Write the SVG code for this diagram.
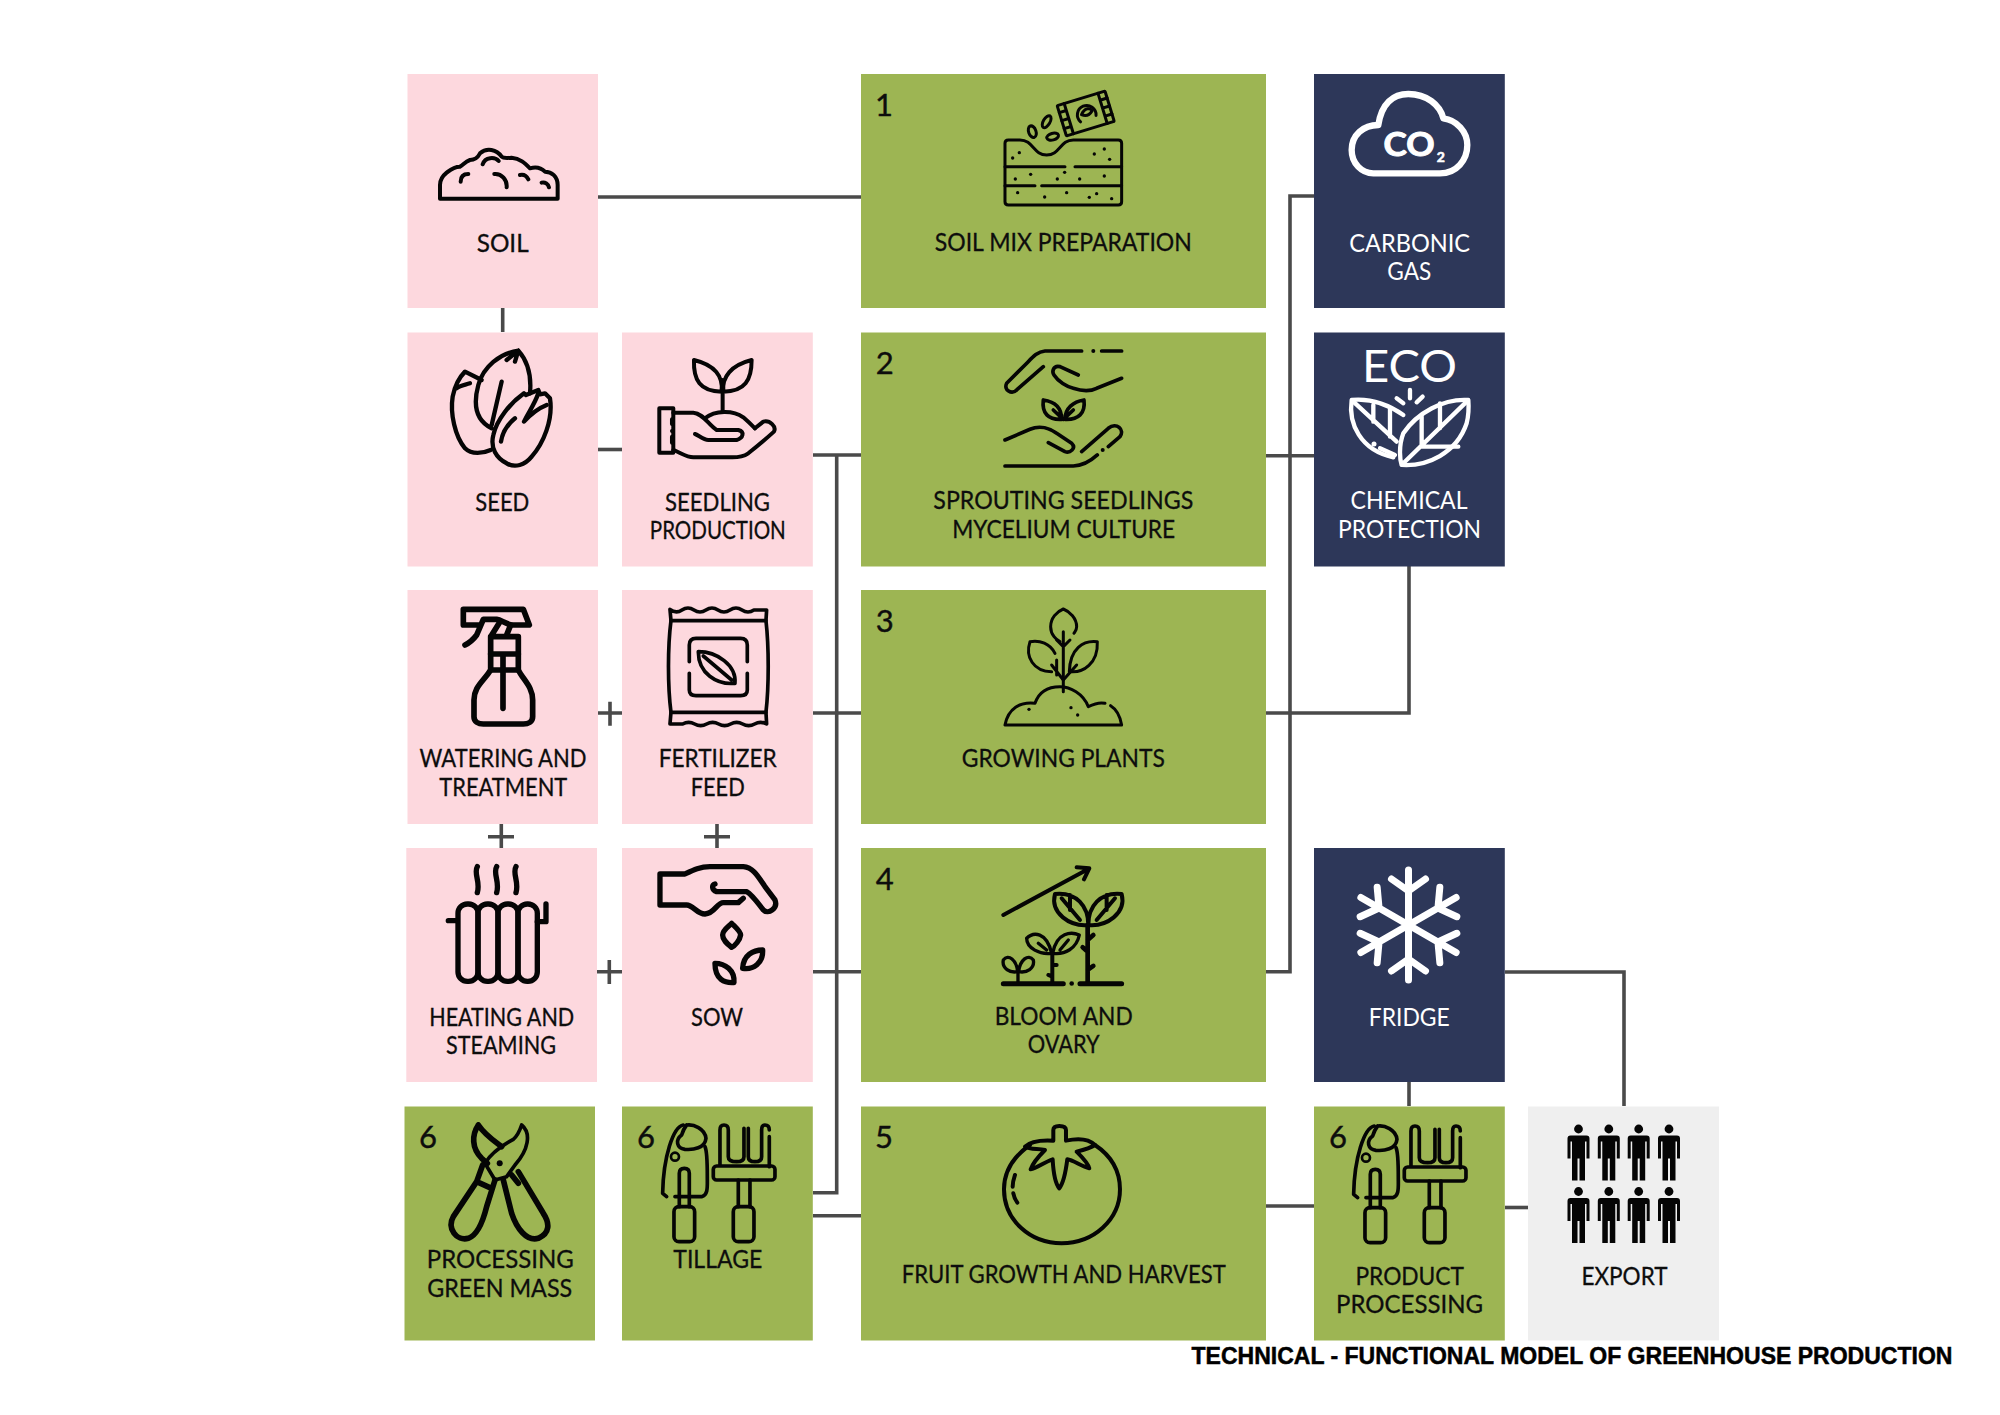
<svg xmlns="http://www.w3.org/2000/svg" xmlns:xlink="http://www.w3.org/1999/xlink" width="2000" height="1415" viewBox="0 0 2000 1415">
<style>
.pink{fill:#fdd8de}.green{fill:#9db553}.navy{fill:#2d3759}.gray{fill:#efefef}
.t{font-family:"Lato","Liberation Sans",sans-serif;font-size:25px;fill:#0d0d0d;stroke:#0d0d0d;stroke-width:.3;text-anchor:middle}
.w{fill:#fff;stroke:none;font-weight:400}
.n{font-family:"Lato","Liberation Sans",sans-serif;font-size:31px;fill:#0d0d0d;stroke:#0d0d0d;stroke-width:.4;text-anchor:middle}
.title{font-family:"Liberation Sans",Arial,sans-serif;font-size:24px;font-weight:700;fill:#000;stroke:#000;stroke-width:.5;text-anchor:start}
.c{fill:none;stroke:#4a4a4a;stroke-width:3.6}
.i{fill:none;stroke:#050505;stroke-linecap:round;stroke-linejoin:round}
.iw{fill:none;stroke:#fff;stroke-linecap:round;stroke-linejoin:round}
.d{fill:#050505}
</style>
<defs>
<g id="tool" class="i" stroke-width="11">
<path d="M850 75C820 80 790 170 788 280L800 290M825 290H905C925 285 922 260 922 230C922 180 920 150 915 140"/>
<path d="M860 75C880 72 915 85 918 115C915 145 880 150 855 148C830 145 825 120 845 105C848 95 852 85 860 75"/>
<circle cx="825" cy="170" r="12" stroke-width="8"/>
<path d="M838 320V220Q838 205 853 205Q868 205 868 220V320"/>
<rect x="822" y="320" width="62" height="105" rx="15"/>
<path d="M960 195V90Q960 75 972 75Q985 75 985 90V170Q985 185 1010 185Q1032 185 1032 170V85M1045 85V170Q1045 185 1065 185Q1085 185 1085 170V90Q1085 75 1095 75Q1108 75 1108 90M1108 110V200"/>
<rect x="940" y="198" width="185" height="42" rx="10"/>
<path d="M1015 240V320M1050 240V320"/>
<rect x="1000" y="320" width="62" height="105" rx="15"/>
</g>
<g id="person" class="d"><circle cx="0" cy="4.500" r="4.400"/><path d="M-11 14Q-11 11-8 11H8Q11 11 11 14V34H8V17H6.500V56H1V34H-1V56H-6.500V17H-8V34H-11Z"/></g>
<g id="arm" class="iw" stroke-width="7"><path d="M0 0V-55M-17-46L0-34L17-46"/></g>
</defs>
<rect width="2000" height="1415" fill="#fff"/>

<g id="connectors" class="c">
<path d="M598 197H861"/>
<path d="M502.700 308V332"/>
<path d="M598 449.500H622"/>
<path d="M813 455H861"/>
<path d="M836.700 455V1192.700H813"/>
<path d="M813 1215.700H861"/>
<path d="M813 713H861"/>
<path d="M813 971.700H861"/>
<path d="M598 713H622M610 701.700V725.700"/>
<path d="M488 836.700H514M501.300 824V848"/>
<path d="M704 836.700H730M717 824V848"/>
<path d="M597 971.700H622M609.300 960V984"/>
<path d="M1266 455.700H1314"/>
<path d="M1314 196H1290V971.700H1266"/>
<path d="M1266 713H1409V566"/>
<path d="M1505 972H1624V1106"/>
<path d="M1409 1082V1106"/>
<path d="M1266 1206H1314"/>
<path d="M1505 1207.500H1528"/>
</g>

<g id="soil">
<rect class="pink" x="407.500" y="74" width="190.500" height="234"/>
<g transform="translate(400 60) scale(.3333)" class="i" stroke-width="12">
<path d="M120 416H473V375C473 350 455 335 435 335C420 320 400 322 390 325C375 310 360 295 335 293C320 295 310 295 305 290C290 268 260 262 240 280C232 295 225 300 210 300C195 305 190 315 180 320C160 320 150 330 140 338C125 350 120 365 120 375Z"/>
<path d="M248 313C255 290 285 290 296 303M182 365C182 350 190 342 205 342M283 342C305 340 322 360 320 382M360 345C370 343 380 348 385 358M425 368C435 365 445 372 447 382"/>
</g>
<text class="t" x="502.700" y="251.700" textLength="52" lengthAdjust="spacingAndGlyphs">SOIL</text>
</g>

<g id="seed">
<rect class="pink" x="407.500" y="332.500" width="190.500" height="234"/>
<g transform="translate(400 60) scale(.3333)" class="i" stroke-width="13">
<path d="M245 960L195 935C175 955 165 975 158 1010C150 1060 165 1130 195 1165C215 1185 250 1180 272 1170M170 985C180 975 195 975 210 970"/>
<path d="M355 872C300 880 250 920 235 975C220 1030 225 1080 275 1105M355 872C380 900 395 945 390 1000M305 965C295 1010 285 1050 275 1095M320 900L355 872L345 905"/>
<path d="M450 1015C460 1080 430 1150 395 1190C375 1215 345 1225 320 1210C290 1195 270 1165 280 1125C290 1080 330 1030 372 1000L378 1005L415 990L420 1003L435 1000Z"/>
<path d="M415 1000C405 1030 390 1050 372 1085C390 1065 415 1045 440 1035M303 1145C308 1115 320 1095 345 1075"/>
</g>
<text class="t" x="502.300" y="510.700" textLength="54" lengthAdjust="spacingAndGlyphs">SEED</text>
</g>

<g id="seedling">
<rect class="pink" x="622" y="332.500" width="190.800" height="234"/>
<g transform="translate(400 60) scale(.3333)" class="i" stroke-width="12">
<path d="M882 900C880 960 900 995 965 995C970 950 945 915 882 900ZM1055 900C1055 960 1035 995 970 995C965 950 995 915 1055 900ZM968 960V1055"/>
<path d="M915 1075C945 1050 1000 1050 1030 1072C1045 1085 1055 1095 1065 1105"/>
<rect x="778" y="1045" width="42" height="133"/>
<path d="M820 1058H880C910 1060 925 1095 950 1110H1015C1035 1115 1030 1135 1010 1140H925C910 1140 895 1125 885 1122"/>
<path d="M1065 1105L1090 1085C1110 1080 1130 1100 1122 1115C1100 1135 1070 1160 1045 1180C1030 1190 1010 1193 990 1192H880C860 1192 845 1180 820 1170"/>
<path d="M816 1078V1092M816 1130V1148"/>
</g>
<circle class="d" cx="672" cy="431" r="2"/>
<text class="t" x="717.500" y="511" textLength="105" lengthAdjust="spacingAndGlyphs">SEEDLING</text>
<text class="t" x="717.800" y="538.500" textLength="136" lengthAdjust="spacingAndGlyphs">PRODUCTION</text>
</g>

<g id="watering">
<rect class="pink" x="407.500" y="590" width="190.500" height="234"/>
<g transform="translate(400 580) scale(.3333)" class="i" stroke-width="17">
<path d="M190 88H370L388 135H340C320 135 305 120 290 118H250L230 165C215 185 205 190 195 195M190 88V135H238"/>
<path d="M300 125L272 170V270C250 305 222 320 222 360V410C222 425 235 432 250 432H370C385 432 398 425 398 410V360C398 320 370 300 355 270V170H272M330 140L318 170"/>
<path d="M272 222H355M272 270H355M309 230V385"/>
</g>
<text class="t" x="503" y="767.300" textLength="167" lengthAdjust="spacingAndGlyphs">WATERING AND</text>
<text class="t" x="503.300" y="795.700" textLength="128" lengthAdjust="spacingAndGlyphs">TREATMENT</text>
</g>

<g id="fertilizer">
<rect class="pink" x="622" y="590" width="190.800" height="234"/>
<g transform="translate(400 580) scale(.3333)" class="i" stroke-width="11">
<path d="M810 88Q828 102 846 90T882 90T918 90T954 90T990 90T1026 90T1062 90L1100 90L1098 122H813Z"/>
<path d="M813 122C803 200 803 320 813 397M1098 122C1107 200 1107 320 1098 397"/>
<path d="M813 397H1098L1100 432Q1082 422 1064 432T1028 432T992 432T956 432T920 432T884 432T848 432L810 432Z"/>
<path d="M868 245V195Q868 175 888 175H1022Q1042 175 1042 195V245M868 280V330Q868 347 888 347H1022Q1042 347 1042 330V280"/>
<path d="M895 215C950 215 1010 255 1005 310C950 315 895 280 895 215ZM910 228L995 300"/>
</g>
<text class="t" x="717.700" y="767" textLength="118" lengthAdjust="spacingAndGlyphs">FERTILIZER</text>
<text class="t" x="717.700" y="795.700" textLength="54" lengthAdjust="spacingAndGlyphs">FEED</text>
</g>

<g id="heating">
<rect class="pink" x="406.300" y="848" width="190.700" height="234"/>
<g transform="translate(400 580) scale(.3333)" class="i" stroke-width="16">
<path d="M232 860C220 880 242 905 232 938M290 860C278 880 300 905 290 938M348 860C336 880 358 905 348 938"/>
<rect x="174" y="972" width="60" height="232" rx="28"/><rect x="234" y="972" width="60" height="232" rx="28"/><rect x="294" y="972" width="60" height="232" rx="28"/><rect x="354" y="972" width="58" height="232" rx="28"/>
<path d="M145 1022H172M412 1025H438V972"/>
</g>
<text class="t" x="501.700" y="1025.700" textLength="145" lengthAdjust="spacingAndGlyphs">HEATING AND</text>
<text class="t" x="501" y="1054" textLength="110" lengthAdjust="spacingAndGlyphs">STEAMING</text>
</g>

<g id="sow">
<rect class="pink" x="622" y="848" width="190.800" height="234"/>
<g transform="translate(400 580) scale(.3333)" class="i" stroke-width="16">
<path d="M1030 955L1015 968H970C950 968 945 1000 915 1002C890 1002 880 975 860 975H780V882H855C880 870 900 860 930 860H1030C1060 862 1075 890 1095 920L1125 960C1135 985 1105 1005 1090 990C1075 970 1050 940 1040 935H950C935 930 935 915 945 912"/>
<path d="M995 1030C1010 1045 1022 1055 1022 1065C1020 1080 1005 1098 995 1102C980 1090 968 1080 968 1065C968 1050 985 1040 995 1030Z"/>
<path d="M1088 1110C1060 1110 1030 1125 1028 1165C1060 1170 1090 1150 1088 1110Z"/>
<path d="M945 1150C975 1150 1005 1170 1002 1208C975 1210 945 1200 945 1150Z"/>
</g>
<text class="t" x="717" y="1025.700" textLength="52" lengthAdjust="spacingAndGlyphs">SOW</text>
</g>

<g id="processing">
<rect class="green" x="404.500" y="1106.500" width="190.500" height="234"/>
<g transform="translate(400 1100) scale(.3333)" class="i" stroke-width="17">
<path d="M235 75C215 105 215 145 245 175L262 190M235 75C255 105 285 125 305 140"/>
<path d="M365 75C395 100 385 150 345 195L320 230L285 240L255 190C270 165 300 140 340 118C355 105 360 90 365 75Z" stroke-width="11"/>
<path d="M248 195L230 245L160 350C140 385 170 425 205 415C235 405 250 360 260 320L285 240M230 245L268 262"/>
<path d="M310 240L335 340C350 385 380 425 415 415C450 400 450 370 430 340L355 215M335 225L355 250"/>
</g>
<circle class="d" cx="499.700" cy="1163.300" r="3"/>
<text class="n" x="428" y="1148">6</text>
<text class="t" x="500.300" y="1268.300" textLength="147" lengthAdjust="spacingAndGlyphs">PROCESSING</text>
<text class="t" x="499.700" y="1296.700" textLength="145" lengthAdjust="spacingAndGlyphs">GREEN MASS</text>
</g>

<g id="tillage">
<rect class="green" x="622" y="1106.500" width="190.800" height="234"/>
<use xlink:href="#tool" href="#tool" transform="translate(400 1100) scale(.3333)"/>
<text class="n" x="646" y="1148">6</text>
<text class="t" x="717.800" y="1268.300" textLength="89" lengthAdjust="spacingAndGlyphs">TILLAGE</text>
</g>

<g id="step1">
<rect class="green" x="861" y="74" width="405" height="234"/>
<g transform="translate(860 70) scale(.3333)" class="i" stroke-width="9">
<path d="M435 220Q435 210 445 210H480C520 210 520 255 560 255C600 255 600 210 640 210H775Q785 210 785 220V395Q785 405 775 405H445Q435 405 435 395Z"/>
<path d="M435 290H615M645 290H785M435 347H525M545 347H785"/>
<ellipse cx="517" cy="185" rx="11" ry="18" transform="rotate(-20 517 185)"/>
<ellipse cx="560" cy="155" rx="10" ry="20" transform="rotate(30 560 155)"/>
<ellipse cx="578" cy="200" rx="18" ry="10" transform="rotate(-15 578 200)"/>
<g transform="rotate(-17 677 130)"><rect x="602" y="83" width="150" height="95" rx="3"/><path d="M624 83V178M730 83V178M602 105H624M602 130H624M602 155H624M730 105H752M730 130H752M730 155H752"/><path d="M655 150A28 28 0 1 1 705 145"/><path d="M664 130C680 112 695 118 698 128C685 140 675 140 664 130Z"/></g>
</g>
<g class="d" transform="translate(860 70) scale(.3333)"><circle cx="478" cy="248" r="5"/><circle cx="458" cy="264" r="5"/><circle cx="703" cy="252" r="5"/><circle cx="733" cy="237" r="5"/><circle cx="749" cy="268" r="5"/><circle cx="466" cy="327" r="5"/><circle cx="512" cy="313" r="5"/><circle cx="592" cy="327" r="5"/><circle cx="614" cy="307" r="5"/><circle cx="659" cy="327" r="5"/><circle cx="733" cy="318" r="5"/><circle cx="473" cy="368" r="5"/><circle cx="554" cy="381" r="5"/><circle cx="620" cy="368" r="5"/><circle cx="688" cy="382" r="5"/><circle cx="710" cy="371" r="5"/><circle cx="755" cy="386" r="5"/></g>
<text class="n" x="884" y="115.500">1</text>
<text class="t" x="1063.300" y="251" textLength="257" lengthAdjust="spacingAndGlyphs">SOIL MIX PREPARATION</text>
</g>

<g id="step2">
<rect class="green" x="861" y="332.500" width="405" height="234"/>
<g transform="translate(860 70) scale(.3333)" class="i" stroke-width="11">
<path d="M665 843H555C530 845 515 865 495 885L440 940C430 960 455 975 470 960L550 890M725 843H785"/>
<path d="M655 915L600 890C580 885 575 905 582 915C595 935 620 950 640 955C670 965 690 965 710 955L785 925"/>
<path d="M550 990C545 1030 565 1050 605 1048C605 1015 585 995 550 990ZM672 990C677 1030 655 1050 615 1048C615 1015 640 995 672 990ZM580 1020L610 1048L640 1020"/>
<path d="M435 1110L510 1078C540 1065 570 1075 590 1090L635 1120C650 1135 630 1150 615 1145L565 1118"/>
<path d="M665 1145L745 1075C770 1055 795 1080 780 1100L745 1130M712 1155C690 1175 670 1188 640 1188H435"/>
</g>
<circle class="d" cx="1093.300" cy="351" r="2"/><circle class="d" cx="1102.700" cy="450" r="2"/>
<text class="n" x="884.700" y="373.500">2</text>
<text class="t" x="1063.300" y="509.300" textLength="260" lengthAdjust="spacingAndGlyphs">SPROUTING SEEDLINGS</text>
<text class="t" x="1063.700" y="538.300" textLength="223" lengthAdjust="spacingAndGlyphs">MYCELIUM CULTURE</text>
</g>

<g id="step3">
<rect class="green" x="861" y="590" width="405" height="234"/>
<g transform="translate(860 590) scale(.3333)" class="i" stroke-width="9">
<path d="M600 155C590 150 572 135 572 110C572 85 590 65 610 57C630 65 650 85 650 110C650 120 645 125 642 130"/>
<path d="M610 125V305M590 150L610 170L630 150"/>
<path d="M585 190C570 160 540 150 510 155C495 200 520 245 575 245"/>
<path d="M712 155C670 150 630 175 628 245C670 250 715 220 712 155Z"/>
<path d="M575 225L610 270M650 225L610 270M590 210V255"/>
<path d="M435 405H785C780 375 765 355 752 347M735 340C715 335 695 345 685 350C670 310 630 290 600 290C560 290 535 310 525 340C480 335 445 355 435 405"/>
</g>
<g class="d" transform="translate(860 590) scale(.3333)"><circle cx="507" cy="358" r="5"/><circle cx="633" cy="353" r="5"/><circle cx="653" cy="375" r="5"/></g>
<text class="n" x="884.700" y="632">3</text>
<text class="t" x="1063.300" y="766.700" textLength="203" lengthAdjust="spacingAndGlyphs">GROWING PLANTS</text>
</g>

<g id="step4">
<rect class="green" x="861" y="848" width="405" height="234"/>
<g transform="translate(860 590) scale(.3333)" class="i" stroke-width="12">
<path d="M430 975L685 837M650 832L688 835L672 868"/>
<path d="M585 912C650 905 685 950 685 1005C630 1010 570 970 585 912ZM785 912C720 905 685 950 685 1005C740 1010 800 970 785 912ZM605 925L660 990M765 925L710 990M630 915V960M740 915V960"/>
<path d="M683 1005V1180M683 1050L700 1035M683 1085L668 1072M683 1140L700 1128" stroke-width="14"/>
<path d="M575 1090C560 1025 520 1025 500 1045C500 1075 540 1095 575 1090ZM578 1090C590 1025 635 1025 658 1035C650 1075 615 1095 578 1090ZM535 1060L560 1080M625 1050L600 1080" stroke-width="10"/>
<path d="M577 1090V1180M577 1125L590 1125M577 1160L565 1155"/>
<path d="M473 1145C470 1110 445 1090 430 1110C425 1135 450 1150 473 1145ZM476 1145C480 1110 505 1090 520 1110C525 1135 500 1150 476 1145ZM474 1145V1180" stroke-width="10"/>
<path d="M430 1181H610M660 1181H785" stroke-width="15"/>
</g>
<circle class="d" cx="1071.700" cy="983.500" r="2.300"/>
<text class="n" x="884.700" y="890">4</text>
<text class="t" x="1063.700" y="1025" textLength="138" lengthAdjust="spacingAndGlyphs">BLOOM AND</text>
<text class="t" x="1063.700" y="1053.300" textLength="72" lengthAdjust="spacingAndGlyphs">OVARY</text>
</g>

<g id="step5">
<rect class="green" x="861" y="1106.500" width="405" height="234"/>
<g transform="translate(860 1100) scale(.3333)" class="i" stroke-width="12">
<path d="M510 135C460 170 432 215 432 268C432 360 510 430 605 430C700 430 780 360 780 268C780 210 750 165 705 135"/>
<path d="M495 140C510 125 545 120 580 122V90Q580 78 598 78Q618 78 618 90V122C650 115 685 115 705 135C690 145 670 150 650 155C665 170 685 190 688 205C665 200 640 180 622 178C618 210 610 250 598 265C585 250 580 215 578 178C555 185 530 205 512 208C520 185 540 165 555 150C535 145 510 150 495 140Z"/>
<path d="M465 225C460 240 458 250 458 260M460 280C462 290 466 300 472 308"/>
</g>
<text class="n" x="884" y="1148">5</text>
<text class="t" x="1063.800" y="1283.300" textLength="324" lengthAdjust="spacingAndGlyphs">FRUIT GROWTH AND HARVEST</text>
</g>

<g id="carbonic">
<rect class="navy" x="1314" y="74" width="190.800" height="234"/>
<g transform="translate(1270 70) scale(.3333)" class="iw" stroke-width="19">
<path d="M310 310H510C560 310 592 270 592 225C592 185 560 150 520 145C510 105 470 72 415 72C370 72 335 100 325 165C280 165 245 195 245 240C245 280 275 310 310 310Z"/>
</g>
<text class="t" x="1409" y="156" style="font-size:32px;font-weight:700;fill:#fff;stroke:#fff;stroke-width:1" textLength="51" lengthAdjust="spacingAndGlyphs">CO</text>
<text class="t" x="1440.700" y="162" style="font-size:14px;font-weight:700;fill:#fff;stroke:#fff;stroke-width:.6">2</text>
<text class="t w" x="1409.700" y="251.500" textLength="120.700" lengthAdjust="spacingAndGlyphs">CARBONIC</text>
<text class="t w" x="1409.300" y="279.500" textLength="44" lengthAdjust="spacingAndGlyphs">GAS</text>
</g>

<g id="chemical">
<rect class="navy" x="1314" y="332.500" width="190.800" height="234"/>
<text class="t w" x="1409.500" y="381.700" style="font-size:45px" textLength="95" lengthAdjust="spacingAndGlyphs">ECO</text>
<g transform="translate(1270 70) scale(.3333)" class="iw" stroke-width="13">
<path d="M400 1035C350 1000 300 985 245 990C235 1060 270 1140 370 1162"/>
<path d="M595 990C520 985 440 1030 400 1090C385 1130 390 1170 395 1185C470 1190 560 1150 590 1060C595 1040 597 1015 595 990Z"/>
<path d="M400 1180L590 995M455 1130H565M510 1075V1000M455 1130V1040"/>
<path d="M250 995L380 1115M310 1055V1005M360 1100V1015M330 1135L375 1155"/>
<path d="M380 985L400 1000M420 960V985M458 980L440 997"/>
</g>
<circle class="w" cx="1374" cy="444" r="2.500"/>
<text class="t w" x="1409" y="509.300" textLength="117" lengthAdjust="spacingAndGlyphs">CHEMICAL</text>
<text class="t w" x="1409.500" y="537.700" textLength="143" lengthAdjust="spacingAndGlyphs">PROTECTION</text>
</g>

<g id="fridge">
<rect class="navy" x="1314" y="848" width="190.800" height="234"/>
<g transform="translate(1408.500 925)">
<use xlink:href="#arm" href="#arm"/><use xlink:href="#arm" href="#arm" transform="rotate(60)"/><use xlink:href="#arm" href="#arm" transform="rotate(120)"/><use xlink:href="#arm" href="#arm" transform="rotate(180)"/><use xlink:href="#arm" href="#arm" transform="rotate(240)"/><use xlink:href="#arm" href="#arm" transform="rotate(300)"/>
</g>
<text class="t w" x="1409.300" y="1025.800" textLength="81" lengthAdjust="spacingAndGlyphs">FRIDGE</text>
</g>

<g id="product">
<rect class="green" x="1314" y="1106.500" width="190.800" height="234"/>
<use xlink:href="#tool" href="#tool" transform="translate(1091 1101) scale(.3333)"/>
<text class="n" x="1338" y="1148">6</text>
<text class="t" x="1409.700" y="1284.500" textLength="108.500" lengthAdjust="spacingAndGlyphs">PRODUCT</text>
<text class="t" x="1409.500" y="1312.800" textLength="147" lengthAdjust="spacingAndGlyphs">PROCESSING</text>
</g>

<g id="export">
<rect class="gray" x="1528" y="1106.500" width="191" height="234"/>
<use xlink:href="#person" href="#person" x="1578.500" y="1124.500"/><use xlink:href="#person" href="#person" x="1608.800" y="1124.500"/><use xlink:href="#person" href="#person" x="1638.700" y="1124.500"/><use xlink:href="#person" href="#person" x="1669" y="1124.500"/>
<use xlink:href="#person" href="#person" x="1578.500" y="1187"/><use xlink:href="#person" href="#person" x="1608.800" y="1187"/><use xlink:href="#person" href="#person" x="1638.700" y="1187"/><use xlink:href="#person" href="#person" x="1669" y="1187"/>
<text class="t" x="1624.500" y="1284.500" textLength="86" lengthAdjust="spacingAndGlyphs">EXPORT</text>
</g>

<text id="title" class="title" x="1191.500" y="1364" textLength="761" lengthAdjust="spacingAndGlyphs">TECHNICAL - FUNCTIONAL MODEL OF GREENHOUSE PRODUCTION</text>
</svg>
